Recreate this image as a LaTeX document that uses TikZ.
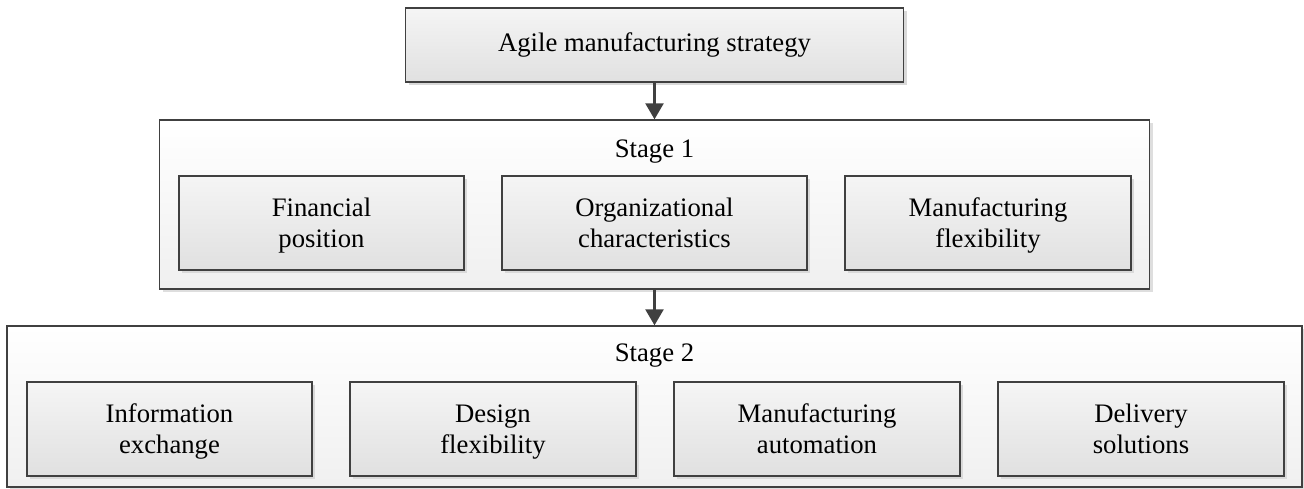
\documentclass[tikz,border=0pt]{standalone}
\usepackage{fontspec}
\setmainfont{Liberation Serif}
\usepackage{xcolor}
\usepackage{tikz}
\usetikzlibrary{arrows.meta, shadows, positioning, calc}

\newcommand{\boxstrut}{\rule[-7pt]{0pt}{31pt}}
\newcommand{\twolines}[2]{\boxstrut #1\\\boxstrut #2}

\tikzset{
    frame/.style={draw=black!75, line width=1.4pt, inner sep=0pt,
        top color=white, bottom color=black!6,
        drop shadow={shadow xshift=3pt, shadow yshift=-3pt, fill=black!13, opacity=1}},
    stagebox/.style={draw=black!75, line width=1.4pt, inner sep=0pt, align=center,
        top color=black!4, bottom color=black!12,
        minimum width=286pt, minimum height=94pt,
        drop shadow={shadow xshift=3pt, shadow yshift=-3pt, fill=black!15, opacity=1}},
    link/.style={draw=black!75, line width=2.6pt, -{Triangle[width=18pt, length=16pt]}}
}

\begin{document}
\begin{tikzpicture}[x=1pt, y=-1pt, font=\fontsize{26.7}{31}\selectfont]
            \useasboundingbox (0,0) rectangle (1304,488);

            \newcommand{\Mid}{654.5}

            \coordinate (T) at (\Mid,45);
            \coordinate (S1) at (\Mid,204.5);
            \coordinate (S2) at (\Mid,406.5);

            \node[frame, minimum width=990pt, minimum height=169pt] (stage1) at (S1) {};% Stage 1
            \node[frame, minimum width=1295pt, minimum height=161pt] (stage2) at (S2) {};% Stage 2

            \node[stagebox, minimum width=498pt, minimum height=74pt] (strategy) at (T) {\strut Agile manufacturing strategy};

            \node (label1) at (\Mid,151) {\strut Stage 1};
            \node[stagebox, minimum width=285pt] (financial) at (321.5,223) {\twolines{Financial}{position}};
            \node[stagebox, minimum width=305pt] (organizational) at (\Mid,223) {\twolines{Organizational}{characteristics}};
            \node[stagebox] (flexibility) at (988,223) {\twolines{Manufacturing}{flexibility}};

            \node (label2) at (\Mid,355) {\strut Stage 2};
            \node[stagebox, minimum width=285pt] (information) at (169.5,429) {\twolines{Information}{exchange}};
            \node[stagebox] (design) at (493,429) {\twolines{Design}{flexibility}};
            \node[stagebox] (automation) at (817,429) {\twolines{Manufacturing}{automation}};
            \node[stagebox] (delivery) at (1141,429) {\twolines{Delivery}{solutions}};

            \draw[link] (strategy) -- (stage1);
            \draw[link] (stage1) -- (stage2);
        \end{tikzpicture}
\end{document}
